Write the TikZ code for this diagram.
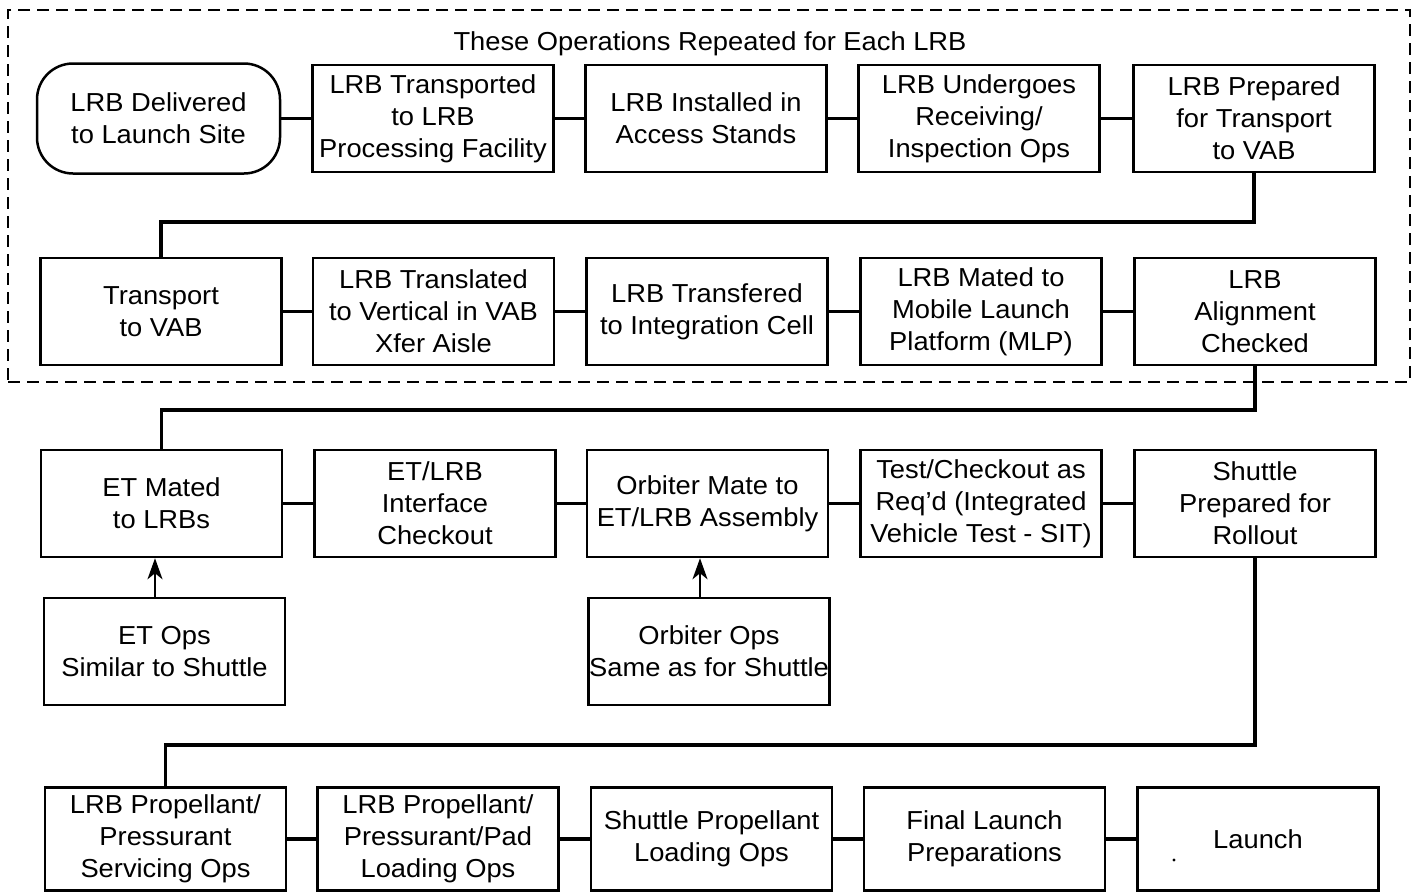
\documentclass[tikz,border=0pt]{standalone}
\usepackage{fontspec}
\setmainfont[FakeStretch=1.05]{Liberation Sans}
\usetikzlibrary{arrows.meta}
\begin{document}
\begin{tikzpicture}[x=1pt,y=-1pt,
  txt/.style={font=\fontsize{26}{32}\selectfont},
  box/.style={txt, draw, line width=2.5pt, minimum width=241pt, minimum height=107pt, align=center, inner sep=0pt},
  rbox/.style={box, rounded corners=36pt, minimum height=110pt, minimum width=243pt},
  link/.style={line width=3.4pt},
  up/.style={line width=2pt, -{Stealth[length=21pt,width=15pt,inset=6pt]}},
  grp/.style={draw, line width=2.2pt, dash pattern=on 12pt off 7pt, minimum width=1402pt, minimum height=372pt, inner sep=0pt},
]
\useasboundingbox (0,0) rectangle (1421,895);
\node[grp] (group) at (709,196) {};
\node[txt, anchor=base] (title) at (710,50) {These Operations Repeated for Each LRB};
% row 1
\node[rbox] (d1) at (158.5,118.5) {LRB Delivered\\to Launch Site};
\node[box] (b2) at (433,118.5) {LRB Transported\\to LRB\\Processing Facility};
\node[box] (b3) at (706,118.5) {LRB Installed in\\Access Stands};
\node[box] (b4) at (979,118.5) {LRB Undergoes\\Receiving/\\Inspection Ops};
\node[box] (b5) at (1254,118.5) {LRB Prepared\\for Transport\\to VAB};
% row 2
\node[box] (b6) at (161,311.5) {Transport\\to VAB};
\node[box] (b7) at (433.5,311.5) {LRB Translated\\to Vertical in VAB\\Xfer Aisle};
\node[box] (b8) at (707,311.5) {LRB Transfered\\to Integration Cell};
\node[box] (b9) at (981,311.5) {LRB Mated to\\Mobile Launch\\Platform (MLP)};
\node[box] (b10) at (1255,311.5) {LRB\\Alignment\\Checked};
% row 3
\node[box] (b11) at (161.5,503.5) {ET Mated\\to LRBs};
\node[box] (b12) at (435,503.5) {ET/LRB\\Interface\\Checkout};
\node[box] (b13) at (707.5,503.5) {Orbiter Mate to\\ET/LRB Assembly};
\node[box] (b14) at (981,503.5) {Test/Checkout as\\Req'd (Integrated\\Vehicle Test - SIT)};
\node[box] (b15) at (1255,503.5) {Shuttle\\Prepared for\\Rollout};
\node[box] (s1) at (164.5,651.5) {ET Ops\\Similar to Shuttle};
\node[box] (s2) at (709,651.5) {Orbiter Ops\\Same as for Shuttle};
% row 4
\node[box, minimum height=103pt] (b16) at (165.5,839) {LRB Propellant/\\Pressurant\\Servicing Ops};
\node[box, minimum height=103pt] (b17) at (438,839) {LRB Propellant/\\Pressurant/Pad\\Loading Ops};
\node[box, minimum height=103pt] (b18) at (711.5,839) {Shuttle Propellant\\Loading Ops};
\node[box, minimum height=103pt] (b19) at (984.5,839) {Final Launch\\Preparations};
\node[box, minimum height=103pt] (b20) at (1258,839) {Launch};
\fill (1174,860) circle (1.6pt);
% horizontal links
\draw[link] (d1.east) -- (b2.west);
\draw[link] (b2.east) -- (b3.west);
\draw[link] (b3.east) -- (b4.west);
\draw[link] (b4.east) -- (b5.west);
\draw[link] (b6.east) -- (b7.west);
\draw[link] (b7.east) -- (b8.west);
\draw[link] (b8.east) -- (b9.west);
\draw[link] (b9.east) -- (b10.west);
\draw[link] (b11.east) -- (b12.west);
\draw[link] (b12.east) -- (b13.west);
\draw[link] (b13.east) -- (b14.west);
\draw[link] (b14.east) -- (b15.west);
\draw[link] (b16.east) -- (b17.west);
\draw[link] (b17.east) -- (b18.west);
\draw[link] (b18.east) -- (b19.west);
\draw[link] (b19.east) -- (b20.west);
% row turns
\coordinate (t1) at (0,222);
\coordinate (t2) at (0,410);
\coordinate (t3) at (0,745);
\draw[link] (b5.south) -- (b5.south |- t1) -| (b6.north);
\draw[link] (b10.south) -- (b10.south |- t2) -| (b11.north);
\draw[link] (b15.south) -- (b15.south |- t3) -| (b16.north);
% feeder arrows
\coordinate (a1) at (155,0);
\coordinate (a2) at (700,0);
\draw[up] (s1.north -| a1) -- (b11.south -| a1);
\draw[up] (s2.north -| a2) -- (b13.south -| a2);
\end{tikzpicture}
\end{document}
